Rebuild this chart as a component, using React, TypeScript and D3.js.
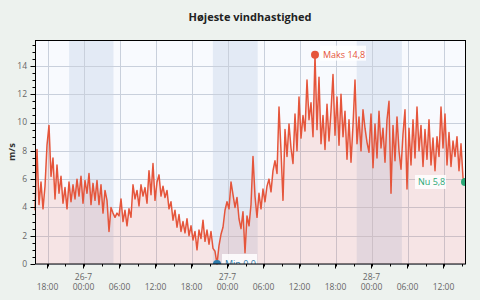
import React from "react";
import * as d3 from "d3";

// Højeste vindhastighed, målt hvert 20. minut fra 25-7 kl. 15:55
const title = "Højeste vindhastighed";
const unit = "m/s";
const start = new Date(2024, 6, 25, 15, 55);
const stepMinutes = 20;

// 25-7 15:55 - 26-7 09:35
const vindA = [
  3.8, 8.1, 4.2, 5.8, 3.9, 5.5, 8.4, 9.8, 6.2, 7.5, 4.6, 7.0, 5.0, 6.2, 4.3, 5.4, 3.9, 5.8,
  4.4, 5.6, 4.6, 6.0, 4.8, 6.2, 4.3, 5.9, 5.0, 6.4, 4.2, 5.7, 4.5, 5.9, 4.2, 5.6, 3.6, 5.2,
  4.5, 2.3, 4.0, 3.6, 3.3, 3.6, 3.4, 4.6, 3.0, 3.8, 2.7, 3.9, 3.3, 5.6, 4.6, 5.2, 4.1, 5.6,
];
// 26-7 09:55 - 27-7 03:35
const vindB = [
  4.8, 5.4, 4.3, 6.6, 4.9, 7.1, 4.5, 5.8, 6.3, 4.8, 5.5, 4.7, 5.2, 3.9, 4.4, 3.1, 3.8, 2.6,
  3.5, 2.3, 3.0, 2.2, 3.2, 2.0, 2.7, 1.7, 2.3, 1.0, 2.4, 1.8, 3.1, 1.6, 2.4, 1.4, 2.3, 1.1,
  0.9, 0.0, 1.3, 2.1, 2.6, 3.8, 4.4, 3.9, 5.8, 4.9, 4.0, 4.7, 3.2, 2.5, 3.7, 0.8, 3.4, 2.7,
];
// 27-7 03:55 - 27-7 21:35
const vindC = [
  4.2, 7.6, 4.8, 3.3, 5.0, 3.9, 5.3, 4.4, 5.5, 6.0, 5.1, 6.6, 7.3, 6.4, 11.1, 8.0, 4.5, 9.5,
  7.6, 9.9, 8.2, 7.1, 10.6, 8.0, 11.8, 8.9, 10.5, 9.4, 13.0, 10.2, 11.4, 9.0, 14.8, 9.5, 13.2, 8.5,
  10.5, 8.1, 11.3, 8.7, 10.8, 13.4, 9.1, 11.8, 8.4, 12.0, 9.0, 10.8, 7.4, 10.2, 7.2, 9.8, 13.0, 8.5,
];
// 27-7 21:55 - 28-7 15:35
const vindD = [
  10.4, 8.0, 10.9, 9.6, 8.6, 7.9, 10.6, 6.8, 9.9, 7.5, 10.8, 8.2, 9.6, 7.2, 10.2, 11.5, 5.0, 9.8,
  7.3, 10.4, 8.0, 6.7, 9.2, 10.9, 5.3, 9.6, 7.0, 10.2, 7.5, 11.1, 8.0, 9.8, 6.9, 9.5, 7.4, 10.2,
  7.0, 8.9, 6.6, 9.0, 7.6, 11.1, 8.2, 10.6, 7.0, 9.3, 6.9, 8.7, 7.6, 9.0, 6.6, 8.5, 6.1, 5.8,
];

// mørke perioder (solnedgang - solopgang)
const nights = [
  [new Date(2024, 6, 25, 21, 36), new Date(2024, 6, 26, 5, 0)],
  [new Date(2024, 6, 26, 21, 34), new Date(2024, 6, 27, 5, 2)],
  [new Date(2024, 6, 27, 21, 32), new Date(2024, 6, 28, 5, 4)],
];

const W = 480;
const H = 300;
const margin = { top: 40, right: 15, bottom: 36, left: 35 };
const iw = W - margin.left - margin.right;
const ih = H - margin.top - margin.bottom;

const lineColor = "#e5553b";
const minColor = "#2c7bab";
const nowColor = "#2aa876";
const gridColor = "#c9d0dc";
const font = "'Open Sans', 'Noto Sans', sans-serif";

const fmtComma = (v) => v.toFixed(1).replace(".", ",");

export default function App() {
  const values = [...vindA, ...vindB, ...vindC, ...vindD];
  const data = values.map((v, i) => ({
    t: d3.timeMinute.offset(start, i * stepMinutes),
    v,
  }));

  const x = d3
    .scaleTime()
    .domain(d3.extent(data, (d) => d.t))
    .range([0, iw]);
  const vMax = d3.max(data, (d) => d.v);
  const y = d3.scaleLinear().domain([0, vMax * 1.07]).range([ih, 0]);

  const line = d3
    .line()
    .x((d) => x(d.t))
    .y((d) => y(d.v));
  const area = d3
    .area()
    .x((d) => x(d.t))
    .y0(ih)
    .y1((d) => y(d.v));

  const yMajor = d3.range(0, y.domain()[1], 2);
  const yMinor = d3.range(0, y.domain()[1], 0.5);
  const xMajor = d3.timeHour.every(6).range(...x.domain());
  const xMinor = d3.timeHour.every(3).range(...x.domain());
  const fmtTime = d3.timeFormat("%H:%M");

  const maxPt = data[d3.maxIndex(data, (d) => d.v)];
  const minPt = data[d3.minIndex(data, (d) => d.v)];
  const nowPt = data[data.length - 1];

  return (
    <div style={{ position: "fixed", left: 0, top: 0, width: W, height: H, background: "#edf2ee" }}>
      <svg width={W} height={H} style={{ display: "block", fontFamily: font }}>
        <defs>
          <clipPath id="plotClip">
            <rect x={0} y={0} width={iw} height={ih} />
          </clipPath>
        </defs>
        <text x={margin.left + iw / 2} y={21} textAnchor="middle" fontSize={11} fontWeight="bold" fill="#222">
          {title}
        </text>
        <text
          transform={`translate(15,${margin.top + ih / 2}) rotate(-90)`}
          textAnchor="middle"
          fontSize={9.5}
          fontWeight="bold"
          fill="#333"
        >
          {unit}
        </text>

        <g transform={`translate(${margin.left},${margin.top})`}>
          <rect width={iw} height={ih} fill="#f8fafe" />
          {nights.map(([a, b], i) => (
            <rect key={i} x={x(a)} y={0} width={x(b) - x(a)} height={ih} fill="#e3eaf5" />
          ))}
          {yMajor.map((v) => (
            <line key={v} x1={0} x2={iw} y1={Math.round(y(v)) + 0.5} y2={Math.round(y(v)) + 0.5} stroke={gridColor} />
          ))}
          {xMajor.map((t) => (
            <line key={+t} x1={Math.round(x(t)) + 0.5} x2={Math.round(x(t)) + 0.5} y1={0} y2={ih} stroke={gridColor} />
          ))}
          <path d={area(data)} fill={lineColor} fillOpacity={0.13} />
          <path d={line(data)} fill="none" stroke={lineColor} strokeWidth={1.5} strokeLinejoin="round" />

          <g clipPath="url(#plotClip)" fontSize={9}>
            <circle cx={x(maxPt.t)} cy={y(maxPt.v)} r={4} fill={lineColor} />
            <rect x={x(maxPt.t) + 5} y={y(maxPt.v) - 9} width={46} height={15} fill="#fff" fillOpacity={0.85} />
            <text x={x(maxPt.t) + 8} y={y(maxPt.v) + 3.5} fill={lineColor}>
              {"Maks " + fmtComma(maxPt.v)}
            </text>

            <circle cx={x(minPt.t)} cy={y(minPt.v)} r={4} fill={minColor} />
            <rect x={x(minPt.t) + 5} y={y(minPt.v) - 10} width={35} height={15} fill="#fff" fillOpacity={0.85} />
            <text x={x(minPt.t) + 8} y={y(minPt.v) + 2.5} fill={minColor}>
              {"Min " + fmtComma(minPt.v)}
            </text>

            <circle cx={x(nowPt.t)} cy={y(nowPt.v)} r={4} fill={nowColor} />
            <rect x={x(nowPt.t) - 50} y={y(nowPt.v) - 7} width={31} height={14} fill="#fff" fillOpacity={0.85} />
            <text x={x(nowPt.t) - 47} y={y(nowPt.v) + 3.5} fill={nowColor}>
              {"Nu " + fmtComma(nowPt.v)}
            </text>
          </g>

          <rect x={0.5} y={0.5} width={iw} height={ih - 0.5} fill="none" stroke="#000" />

          {/* y-akse */}
          {yMinor.map((v) => (
            <line key={v} x1={-2.5} x2={0} y1={Math.round(y(v)) + 0.5} y2={Math.round(y(v)) + 0.5} stroke="#000" />
          ))}
          {yMajor.map((v) => (
            <g key={v}>
              <line x1={-4.5} x2={0} y1={Math.round(y(v)) + 0.5} y2={Math.round(y(v)) + 0.5} stroke="#000" />
              <text x={-8} y={y(v)} dy="0.34em" textAnchor="end" fontSize={8.5} fill="#666">
                {v}
              </text>
            </g>
          ))}

          {/* x-akse */}
          {xMinor.map((t) => (
            <line key={+t} x1={Math.round(x(t)) + 0.5} x2={Math.round(x(t)) + 0.5} y1={ih} y2={ih + 2.5} stroke="#000" />
          ))}
          {xMajor.map((t) => (
            <g key={+t} transform={`translate(${x(t)},${ih})`}>
              <line x1={0} x2={0} y1={0} y2={4.5} stroke="#000" />
              {t.getHours() === 0 && (
                <text y={15.5} textAnchor="middle" fontSize={8.5} fill="#666">
                  {`${t.getDate()}-${t.getMonth() + 1}`}
                </text>
              )}
              <text y={26} textAnchor="middle" fontSize={8.5} fill="#666">
                {fmtTime(t)}
              </text>
            </g>
          ))}
        </g>
      </svg>
    </div>
  );
}
